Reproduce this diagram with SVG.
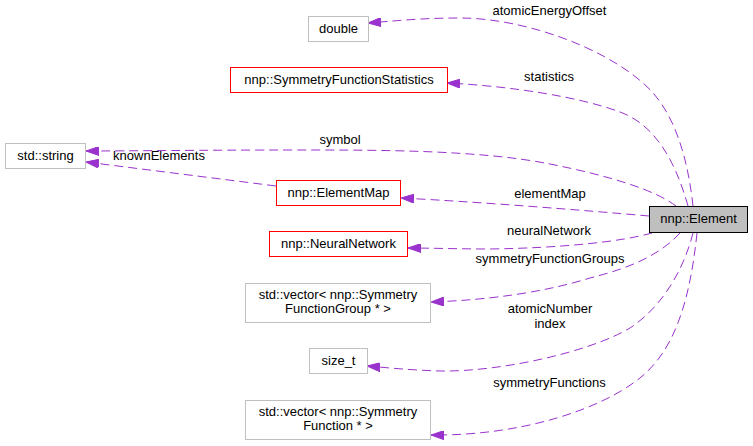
<svg xmlns="http://www.w3.org/2000/svg" width="753" height="446" viewBox="0 0 753 446">
<defs>
<marker id="arr" markerUnits="userSpaceOnUse" viewBox="0 0 13 9" refX="13" refY="4.5" markerWidth="13" markerHeight="9" orient="auto">
<path d="M0,0 L13,4.5 L0,9 z" fill="#9a32cd" stroke="#9a32cd" stroke-width="1"/>
</marker>
<style>
text{font-family:"Liberation Sans",Arial,sans-serif;font-size:13px;fill:#000;text-anchor:middle}
.g rect{fill:#fff;stroke:#bfbfbf;stroke-width:1}
.r rect{fill:#fff;stroke:#ff0000;stroke-width:1}
.e{fill:none;stroke:#9a32cd;stroke-width:1;stroke-dasharray:9,5;marker-end:url(#arr)}
</style>
</defs>
<rect width="753" height="446" fill="#fff"/>
<g id="connectors">
<path class="e" d="M693,206 C688,160 675,110 643,83 C600,45 520,18 460,18 C420,18 395,21 368,23"/>
<path class="e" d="M688,206 C675,160 655,125 620,112 C580,97 510,86 447,83"/>
<path class="e" d="M676,206 C655,190 610,176 550,164 C480,150 380,150 300,150 C200,150 130,151 86,151"/>
<path class="e" d="M276,186 L86,162"/>
<path class="e" d="M649,216 C580,210 480,202 401,198"/>
<path class="e" d="M652,233 C620,242 560,248 490,249 C460,249 430,248 408,248"/>
<path class="e" d="M680,233 C660,255 630,268 590,278 C545,292 490,300 431,302"/>
<path class="e" d="M693,233 C685,265 665,305 630,328 C590,352 500,372 440,371 C410,370 390,368 367,366"/>
<path class="e" d="M697,233 C690,300 675,350 640,378 C600,410 520,436 431,435"/>
<text x="549.5" y="15">atomicEnergyOffset</text>
<text x="549" y="81">statistics</text>
<text x="340" y="144">symbol</text>
<text x="159" y="160">knownElements</text>
<text x="550" y="198">elementMap</text>
<text x="549" y="235">neuralNetwork</text>
<text x="550" y="263">symmetryFunctionGroups</text>
<text x="550" y="313">atomicNumber</text>
<text x="550" y="328">index</text>
<text x="549.5" y="387">symmetryFunctions</text>
</g>
<g id="node-element"><rect x="649.5" y="206.5" width="98" height="26" fill="#bfbfbf" stroke="#000"/><text x="698.5" y="223">nnp::Element</text></g>
<g id="node-double" class="g"><rect x="308.5" y="16.5" width="60" height="25"/><text x="338.5" y="33">double</text></g>
<g id="node-stats" class="r"><rect x="230.5" y="67.5" width="217" height="25"/><text x="339" y="84">nnp::SymmetryFunctionStatistics</text></g>
<g id="node-string" class="g"><rect x="5.5" y="143.5" width="80" height="25"/><text x="45.5" y="160">std::string</text></g>
<g id="node-elementmap" class="r"><rect x="276.5" y="180.5" width="124" height="25"/><text x="338.5" y="197">nnp::ElementMap</text></g>
<g id="node-nn" class="r"><rect x="269.5" y="231.5" width="138" height="25"/><text x="338.5" y="248">nnp::NeuralNetwork</text></g>
<g id="node-sfg" class="g"><rect x="245.5" y="283.5" width="185" height="39"/><text x="338" y="299">std::vector&lt; nnp::Symmetry</text><text x="338" y="313">FunctionGroup * &gt;</text></g>
<g id="node-sizet" class="g"><rect x="309.5" y="348.5" width="58" height="25"/><text x="338.5" y="365">size_t</text></g>
<g id="node-sf" class="g"><rect x="245.5" y="400.5" width="185" height="39"/><text x="338" y="416">std::vector&lt; nnp::Symmetry</text><text x="338" y="430">Function * &gt;</text></g>
</svg>
